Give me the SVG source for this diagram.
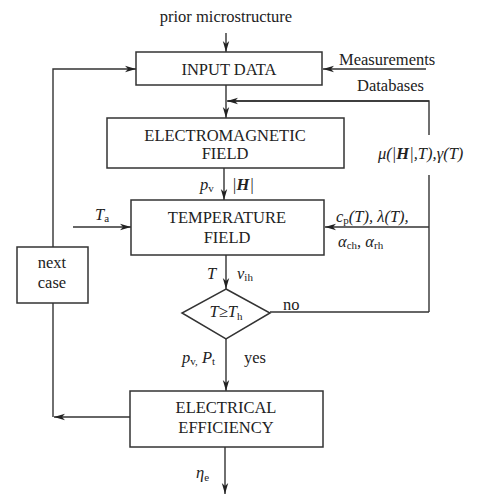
<svg xmlns="http://www.w3.org/2000/svg" width="477" height="495" viewBox="0 0 477 495">
<style>
.box{fill:#fff;stroke:#333;stroke-width:1.5}
.ln{fill:none;stroke:#333;stroke-width:1.4}
.arr{marker-end:url(#ah)}
text{font-family:"Liberation Serif","Times New Roman",serif;font-size:16.5px;fill:#222}
.c{text-anchor:middle}
.i{font-style:italic}
.s{font-size:11px;font-style:normal}
.b{font-weight:bold}
</style>
<defs>
<marker id="ah" markerWidth="12" markerHeight="8" refX="11" refY="4" orient="auto" markerUnits="userSpaceOnUse">
<path d="M0,0.8 L11,4 L0,7.2 L3,4 z" fill="#222"/>
</marker>
</defs>
<g id="connectors">
<path class="ln arr" d="M226,33 V52"/>
<path class="ln arr" d="M426,69 H323"/>
<path class="ln arr" d="M226,85 V118"/>
<path class="ln" d="M429,135 V101 H228"/>
<path class="ln arr" d="M429,101 H227"/>
<path class="ln" d="M429,175 V312"/>
<path class="ln arr" d="M429,227 H325"/>
<path class="ln arr" d="M224,168 V200"/>
<path class="ln arr" d="M73,227 H131"/>
<path class="ln arr" d="M226,255 V289"/>
<path class="ln" d="M270,312 H429"/>
<path class="ln arr" d="M226,339 V391"/>
<path class="ln arr" d="M225,447 V494"/>
<path class="ln" d="M53,303 V417"/>
<path class="ln arr" d="M130,417 H54"/>
<path class="ln arr" d="M53,247 V69 H136"/>
</g>
<g id="input-data">
<rect class="box" x="136" y="52" width="186" height="33"/>
<text class="c" x="229" y="75">INPUT DATA</text>
</g>
<g id="electromagnetic-field">
<rect class="box" x="107" y="118" width="237" height="50"/>
<text class="c" x="225" y="141">ELECTROMAGNETIC</text>
<text class="c" x="225" y="159">FIELD</text>
</g>
<g id="temperature-field">
<rect class="box" x="131" y="200" width="193" height="55"/>
<text class="c" x="227" y="223">TEMPERATURE</text>
<text class="c" x="227" y="243">FIELD</text>
</g>
<g id="decision">
<polygon class="box" points="226,289 270,313 226,339 182,313"/>
<text class="c i" x="226" y="317">T≥T<tspan class="s" dy="3">h</tspan></text>
</g>
<g id="electrical-efficiency">
<rect class="box" x="130" y="391" width="193" height="56"/>
<text class="c" x="226" y="413">ELECTRICAL</text>
<text class="c" x="226" y="433">EFFICIENCY</text>
</g>
<g id="next-case">
<rect class="box" x="17" y="247" width="71" height="56"/>
<text class="c" x="52" y="268">next</text>
<text class="c" x="52" y="288">case</text>
</g>
<g id="labels">
<text class="c" x="226" y="22">prior microstructure</text>
<text x="339" y="65">Measurements</text>
<text x="357" y="91">Databases</text>
<text class="i" x="378" y="159">μ(|<tspan class="b">H</tspan>|,T),γ(T)</text>
<text class="i" x="200" y="190">p<tspan class="s" dy="2">v</tspan></text>
<text class="i" x="232" y="190">|<tspan class="b">H</tspan>|</text>
<text class="i" x="95" y="220">T<tspan class="s" dy="2">a</tspan></text>
<text class="i" x="336" y="222">c<tspan class="s" dy="2">p</tspan><tspan dy="-2">(T), λ(T),</tspan></text>
<text class="i" x="338" y="247">α<tspan class="s" dy="2">ch</tspan><tspan dy="-2" font-style="normal">, </tspan>α<tspan class="s" dy="2">rh</tspan></text>
<text class="i" x="207" y="279">T</text>
<text class="i" x="237" y="279">v<tspan class="s" dy="2">ih</tspan></text>
<text x="283" y="310">no</text>
<text class="i" x="182" y="363">p<tspan class="s" dy="2">v,</tspan><tspan dy="-2"> P</tspan><tspan class="s" dy="2">t</tspan></text>
<text x="244" y="363">yes</text>
<text class="i" x="196" y="478">η<tspan class="s" dy="3">e</tspan></text>
</g>
</svg>
